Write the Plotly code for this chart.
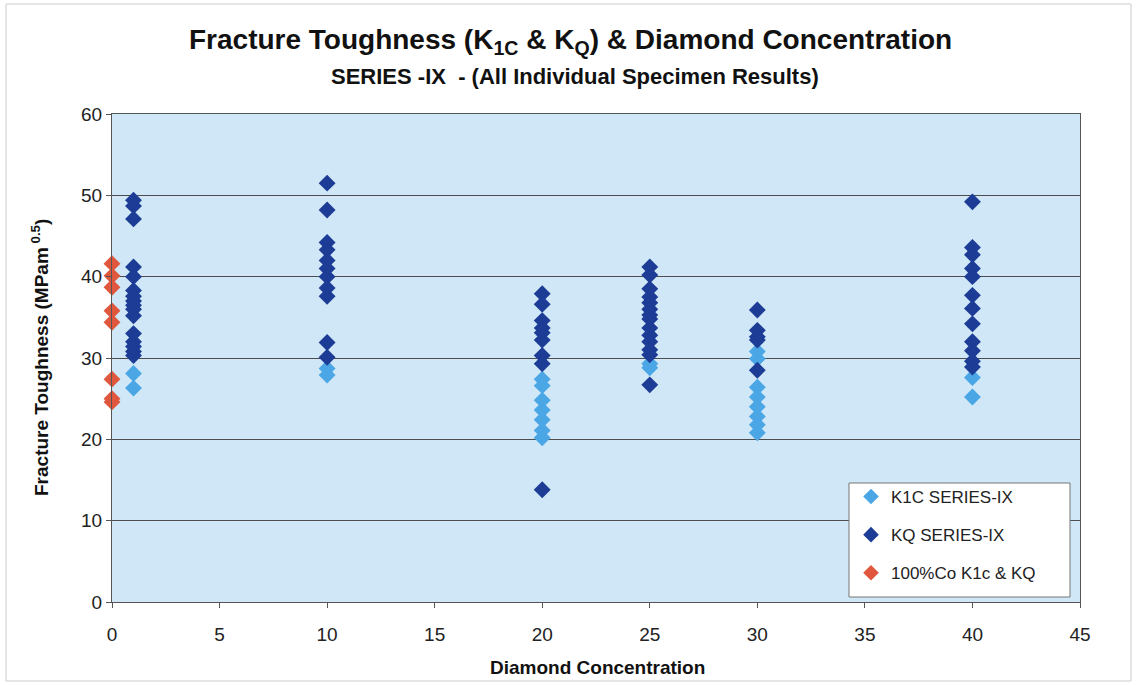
import plotly.graph_objects as go

# Diamond concentration of each specimen group
conc_k1c = [1, 1, 10, 10,
            20, 20, 20, 20, 20, 20, 20,
            25, 25,
            30, 30, 30, 30, 30, 30, 30, 30,
            40, 40]
k1c = [28.1, 26.3, 28.7, 27.9,
       27.4, 26.6, 24.8, 23.6, 22.4, 21.1, 20.2,
       29.3, 28.8,
       30.8, 29.9, 26.4, 25.2, 24.0, 22.8, 21.8, 20.8,
       27.6, 25.2]

conc_kq = [1] * 16 + [10] * 11 + [20] * 9 + [25] * 14 + [30] * 5 + [40] * 12
kq = [49.4, 48.7, 47.1, 41.2, 40.0, 38.3, 37.6, 37.0, 36.5, 36.0, 35.2,
      33.0, 32.0, 31.4, 30.8, 30.3,
      51.5, 48.2, 44.2, 43.3, 42.0, 41.0, 40.0, 38.6, 37.6, 31.9, 30.1,
      37.9, 36.6, 34.6, 33.7, 33.1, 32.2, 30.3, 29.3, 13.8,
      41.2, 40.2, 38.5, 37.5, 36.8, 36.0, 35.3, 34.8, 33.7, 32.8, 32.0,
      31.0, 30.4, 26.7,
      35.9, 33.4, 32.6, 32.2, 28.5,
      49.2, 43.6, 42.7, 41.0, 40.0, 37.7, 36.1, 34.2, 32.0, 30.9, 29.6, 28.9]

conc_co = [0] * 8
co = [41.6, 40.1, 38.7, 35.8, 34.4, 27.4, 25.0, 24.6]

x_ticks = [0, 5, 10, 15, 20, 25, 30, 35, 40, 45]
y_ticks = [0, 10, 20, 30, 40, 50, 60]

FONT = "Liberation Sans, Arial, sans-serif"

# plot area geometry in pixels, used to place titles and boxes in paper units
L, R, T, B = 112, 57, 114, 83
W, H = 1137, 685
PW, PH = W - L - R, H - T - B


def px_x(px):
    return (px - L) / PW


def px_y(py):
    return (H - B - py) / PH


fig = go.Figure()

series = [
    ("K1C SERIES-IX", conc_k1c, k1c, "#4ba6e6"),
    ("KQ SERIES-IX", conc_kq, kq, "#1d3c96"),
    ("100%Co K1c & KQ", conc_co, co, "#e0573d"),
]
for name, xs, ys, color in series:
    fig.add_trace(go.Scatter(
        x=xs, y=ys, mode="markers", name=name, legendgroup=name,
        marker=dict(symbol="diamond", size=13, color=color,
                    line=dict(width=0)),
        cliponaxis=False,
    ))

axis_font = dict(family=FONT, size=19, color="#222")

fig.update_layout(
    width=W, height=H,
    paper_bgcolor="white",
    plot_bgcolor="#cfe7f6",
    margin=dict(l=L, r=R, t=T, b=B),
    font=dict(family=FONT, color="#111"),
    xaxis=dict(
        range=[0, 45], tickvals=x_ticks, ticks="outside", ticklen=5,
        tickcolor="#555", tickfont=axis_font, showgrid=False,
        showline=True, linecolor="#555", linewidth=1, mirror=True,
        zeroline=False, ticklabelstandoff=10,
    ),
    yaxis=dict(
        range=[0, 60], tickvals=y_ticks, ticks="outside", ticklen=5,
        tickcolor="#555", tickfont=axis_font,
        showgrid=True, gridcolor="#4d4d4d", gridwidth=1,
        showline=True, linecolor="#555", linewidth=1, mirror=True,
        zeroline=False,
    ),
    legend=dict(
        x=px_x(851), y=px_y(479), xanchor="left", yanchor="top",
        bgcolor="rgba(0,0,0,0)", borderwidth=0,
        font=dict(size=17, color="#222"),
        itemsizing="constant", tracegroupgap=13,
        itemwidth=30,
    ),
    showlegend=True,
)

annotations = [
    dict(text="<b>Fracture Toughness (K<sub>1C</sub> & K<sub>Q</sub>) & Diamond Concentration</b>",
         x=px_x(570), y=px_y(41), font=dict(size=28, color="#111")),
    dict(text="<b>SERIES -IX  - (All Individual Specimen Results)</b>",
         x=px_x(575), y=px_y(76), font=dict(size=22, color="#111")),
    dict(text="<b>Diamond Concentration</b>",
         x=px_x(597), y=px_y(667), font=dict(size=19, color="#111")),
    dict(text="<b>Fracture Toughness (MPam<sup> 0.5</sup>)</b>",
         x=px_x(40), y=px_y(358), textangle=-90,
         font=dict(size=19, color="#111")),
]
for a in annotations:
    fig.add_annotation(xref="paper", yref="paper", showarrow=False,
                       xanchor="center", yanchor="middle", **a)

# legend box
fig.add_shape(type="rect", xref="paper", yref="paper",
              x0=px_x(849), x1=px_x(1070), y0=px_y(597), y1=px_y(483),
              line=dict(color="#777777", width=1), fillcolor="white",
              layer="above")

# thin frame around the whole chart
fig.add_shape(type="rect", xref="paper", yref="paper",
              x0=px_x(6), x1=px_x(1131), y0=px_y(681), y1=px_y(4),
              line=dict(color="#cccccc", width=1), fillcolor="rgba(0,0,0,0)",
              layer="below")

fig.write_html("out.html")
